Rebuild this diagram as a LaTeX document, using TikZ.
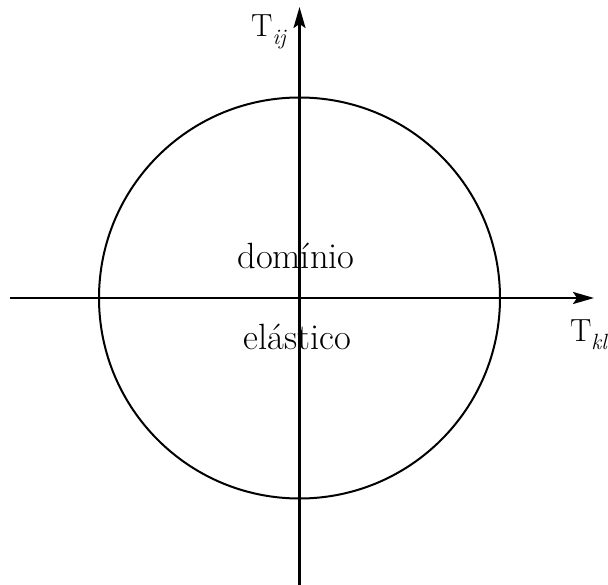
\documentclass[tikz,border=0pt]{standalone}
\usetikzlibrary{arrows.meta}
\newcommand{\subtxt}[1]{\raisebox{-0.25em}{\fontsize{22}{26}\selectfont\itshape #1}}
\begin{document}
\begin{tikzpicture}[x=1pt,y=-1pt,
  axis/.style={line width=2.2pt,-{Stealth[length=21pt,width=12pt,inset=4pt]}},
  bound/.style={draw,circle,line width=2pt,minimum size=401pt,inner sep=0pt},
  lab/.style={inner sep=0pt,font=\fontsize{36.5}{44}\selectfont},
  axlab/.style={inner sep=0pt,font=\fontsize{32}{38}\selectfont}]
\useasboundingbox (0,0) rectangle (608,585);
\node[bound] (c) at (299.5,298) {};
\coordinate (xl) at (10,298);
\coordinate (xr) at (594,298);
\coordinate (yb) at (299.5,590);
\coordinate (yt) at (299.5,7);
\draw[axis] (xl) -- (xr);
\draw[axis] (yb) -- (yt);
\node[axlab,anchor=base west] (tij) at (251,37) {T\subtxt{ij}};
\node[axlab,anchor=base east] (tkl) at (607,342) {T\subtxt{kl}};
\node[lab,anchor=base] (dom) at (296,269) {domínio};
\node[lab,anchor=base] (ela) at (297.5,350) {elástico};
\end{tikzpicture}
\end{document}
